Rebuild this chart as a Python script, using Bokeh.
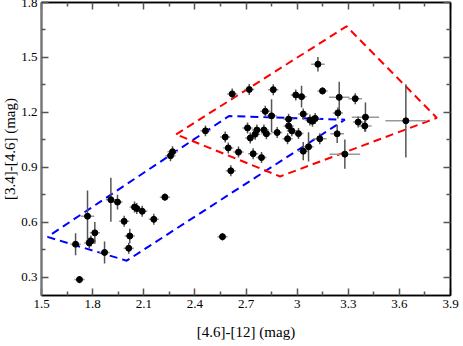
import numpy as np
from bokeh.plotting import figure
from bokeh.models import (ColumnDataSource, LinearAxis, FixedTicker,
                          CustomJSTickFormatter, Range1d)
from bokeh.embed import file_html
from bokeh.resources import INLINE

# ---- data ----
x_vals = [2.224, 1.907, 1.946, 2.046, 2.059, 2.091, 2.159, 1.770, 1.985, 1.813,
          2.018, 1.790, 1.780, 1.700, 2.012, 1.870, 1.723, 2.462, 2.619, 2.719,
          2.860, 3.122, 3.149, 2.992, 3.026, 2.813, 2.850, 3.036, 2.950, 3.075,
          3.090, 3.106, 2.709, 2.764, 2.805, 2.950, 2.969, 3.008, 2.754, 2.725,
          2.820, 2.883, 2.578, 2.944, 2.596, 2.656, 2.742, 2.791, 2.611, 3.036,
          3.067, 3.133, 3.247, 3.341, 3.239, 3.358, 3.401, 3.397, 3.638, 3.235,
          3.280, 2.269, 2.257, 2.562]
y_vals = [0.737, 0.723, 0.710, 0.683, 0.675, 0.660, 0.616, 0.633, 0.605, 0.542,
          0.525, 0.498, 0.487, 0.480, 0.458, 0.435, 0.287, 1.099, 1.301, 1.325,
          1.324, 1.463, 1.317, 1.295, 1.286, 1.206, 1.181, 1.191, 1.163, 1.158,
          1.152, 1.167, 1.115, 1.104, 1.104, 1.126, 1.099, 1.084, 1.081, 1.060,
          1.083, 1.090, 1.065, 1.056, 1.006, 0.983, 0.974, 0.953, 0.881, 0.988,
          1.012, 1.056, 1.282, 1.275, 1.197, 1.147, 1.174, 1.126, 1.154, 1.083,
          0.972, 0.985, 0.963, 0.521]
x_err = [0.03, 0.03, 0.03, 0.03, 0.03, 0.03, 0.03, 0.04, 0.03, 0.03,
         0.03, 0.03, 0.03, 0.03, 0.03, 0.03, 0.03, 0.03, 0.03, 0.03,
         0.03, 0.04, 0.03, 0.03, 0.03, 0.03, 0.03, 0.03, 0.03, 0.03,
         0.03, 0.03, 0.03, 0.03, 0.03, 0.03, 0.03, 0.03, 0.03, 0.03,
         0.03, 0.03, 0.03, 0.03, 0.03, 0.03, 0.03, 0.03, 0.03, 0.03,
         0.03, 0.04, 0.06, 0.04, 0.03, 0.03, 0.08, 0.04, 0.12, 0.04,
         0.09, 0.03, 0.03, 0.03]
y_err = [0.02, 0.12, 0.04, 0.03, 0.03, 0.03, 0.03, 0.14, 0.03, 0.06,
         0.04, 0.03, 0.03, 0.06, 0.03, 0.06, 0.02, 0.03, 0.03, 0.03,
         0.03, 0.04, 0.02, 0.03, 0.06, 0.03, 0.09, 0.03, 0.03, 0.03,
         0.03, 0.03, 0.03, 0.03, 0.03, 0.03, 0.03, 0.03, 0.03, 0.03,
         0.03, 0.03, 0.03, 0.03, 0.03, 0.03, 0.03, 0.03, 0.03, 0.05,
         0.08, 0.03, 0.085, 0.03, 0.03, 0.03, 0.08, 0.03, 0.2, 0.05,
         0.08, 0.03, 0.03, 0.02]

blue_box_x = [1.535, 2.0, 3.28, 2.6, 1.535]
blue_box_y = [0.52, 0.39, 1.16, 1.18, 0.52]
red_box_x = [2.29, 3.29, 3.82, 2.9, 2.29]
red_box_y = [1.08, 1.67, 1.17, 0.85, 1.08]

x_ticks = [1.5, 1.8, 2.1, 2.4, 2.7, 3.0, 3.3, 3.6, 3.9]
x_minor = [1.65, 1.95, 2.25, 2.55, 2.85, 3.15, 3.45, 3.75]
y_ticks = [0.3, 0.6, 0.9, 1.2, 1.5, 1.8]
y_minor = [0.45, 0.75, 1.05, 1.35, 1.65]

x_label = "[4.6]-[12] (mag)"
y_label = "[3.4]-[4.6] (mag)"

# ---- build ----
xa = np.array(x_vals); ya = np.array(y_vals)
xe = np.array(x_err); ye = np.array(y_err)
src = ColumnDataSource(dict(x=xa, y=ya, x0=xa - xe, x1=xa + xe,
                            y0=ya - ye, y1=ya + ye))

p = figure(width=463, height=346, x_range=Range1d(1.5, 3.9),
           y_range=Range1d(0.2, 1.8), output_backend="svg",
           toolbar_location=None, min_border_left=45, min_border_right=9,
           min_border_top=6, min_border_bottom=42)
p.styles = {"margin-left": "-4px", "margin-top": "-4px"}
p.grid.visible = False
p.outline_line_color = "black"
p.outline_line_width = 1.5
p.background_fill_color = "white"
p.border_fill_color = "white"

p.line(blue_box_x, blue_box_y, line_color="#0000ff", line_width=2,
       line_dash="8 5")
p.line(red_box_x, red_box_y, line_color="#ff0000", line_width=2,
       line_dash="8 5")

p.segment("x0", "y", "x1", "y", source=src, line_color="#999999", line_width=1.5)
p.segment("x", "y0", "x", "y1", source=src, line_color="#555555", line_width=1.5)
p.scatter("x", "y", source=src, size=6, fill_color="black", line_color="black")

fmt = CustomJSTickFormatter(code="return tick.toFixed(1).replace(/\\.0$/, '');")
blank = CustomJSTickFormatter(code="return '';")
font = "Liberation Serif"

def style(ax, ticks, minor, labels=True):
    ax.ticker = FixedTicker(ticks=ticks, minor_ticks=minor)
    ax.major_tick_in = 7
    ax.major_tick_out = 0
    ax.minor_tick_in = 4
    ax.minor_tick_out = 0
    ax.major_tick_line_color = "#555555"
    ax.minor_tick_line_color = "#555555"
    ax.major_tick_line_width = 1.5
    ax.minor_tick_line_width = 1.5
    ax.axis_line_color = "black"
    ax.axis_line_width = 1.5
    if labels:
        ax.formatter = fmt
        ax.major_label_text_font = font
        ax.major_label_text_font_size = "13px"
        ax.major_label_text_color = "black"
        ax.axis_label_text_font = font
        ax.axis_label_text_font_size = "15px"
        ax.axis_label_text_font_style = "normal"
        ax.axis_label_text_color = "black"
    else:
        ax.formatter = blank
        ax.major_label_text_font_size = "1px"
        ax.major_label_standoff = 0

style(p.xaxis[0], x_ticks, x_minor)
p.xaxis[0].axis_label = x_label
p.xaxis[0].major_label_standoff = 4
p.xaxis[0].axis_label_standoff = 13
style(p.yaxis[0], y_ticks, y_minor)
p.yaxis[0].axis_label = y_label
p.yaxis[0].major_label_standoff = 4
p.yaxis[0].axis_label_standoff = 0
p.yaxis[0].axis_line_color = "#777777"
p.yaxis[0].axis_line_width = 2

top = LinearAxis()
style(top, x_ticks, x_minor, labels=False)
p.add_layout(top, "above")
right = LinearAxis()
style(right, y_ticks, y_minor, labels=False)
p.add_layout(right, "right")

open("out.html", "w").write(file_html(p, INLINE))
